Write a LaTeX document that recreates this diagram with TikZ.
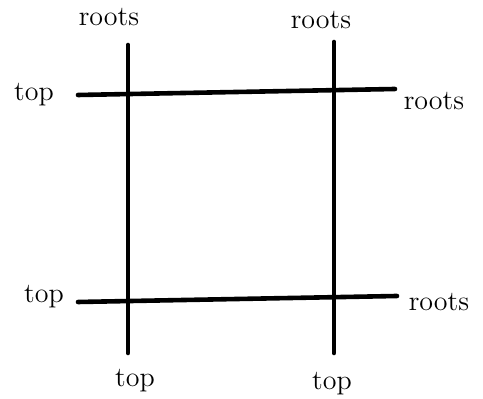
\documentclass[tikz,border=0pt]{standalone}
\usepackage{tikz}
\usetikzlibrary{positioning}

\begin{document}
\begin{tikzpicture}[
  x=0.5pt, y=-0.5pt,
  bar/.style={line width=2.3pt, line cap=round},
  lbl/.style={font=\fontsize{14}{16}\selectfont, inner sep=0pt}
]
\useasboundingbox (0,0) rectangle (483,399);
% end points of the four bars
\coordinate (v1t) at (128,45);  \coordinate (v1b) at (128,353);
\coordinate (v2t) at (334,42);  \coordinate (v2b) at (334,353);
\coordinate (h1l) at (78,95);   \coordinate (h1r) at (395,89);
\coordinate (h2l) at (78,302);  \coordinate (h2r) at (397,296);

\draw[bar] (v1t) -- (v1b);
\draw[bar] (v2t) -- (v2b);
\draw[bar] (h1l) -- (h1r);
\draw[bar] (h2l) -- (h2r);

% labels
\node[lbl] (r1) at (109,17) {roots};
\node[lbl] (r2) at (321,20) {roots};
\node[lbl] (t1) at (34,95) {top};
\node[lbl] (r3) at (434,101) {roots};
\node[lbl] (t2) at (44,297) {top};
\node[lbl] (r4) at (439,302) {roots};
\node[lbl] (t3) at (135,381) {top};
\node[lbl] (t4) at (332,384) {top};
\end{tikzpicture}
\end{document}
